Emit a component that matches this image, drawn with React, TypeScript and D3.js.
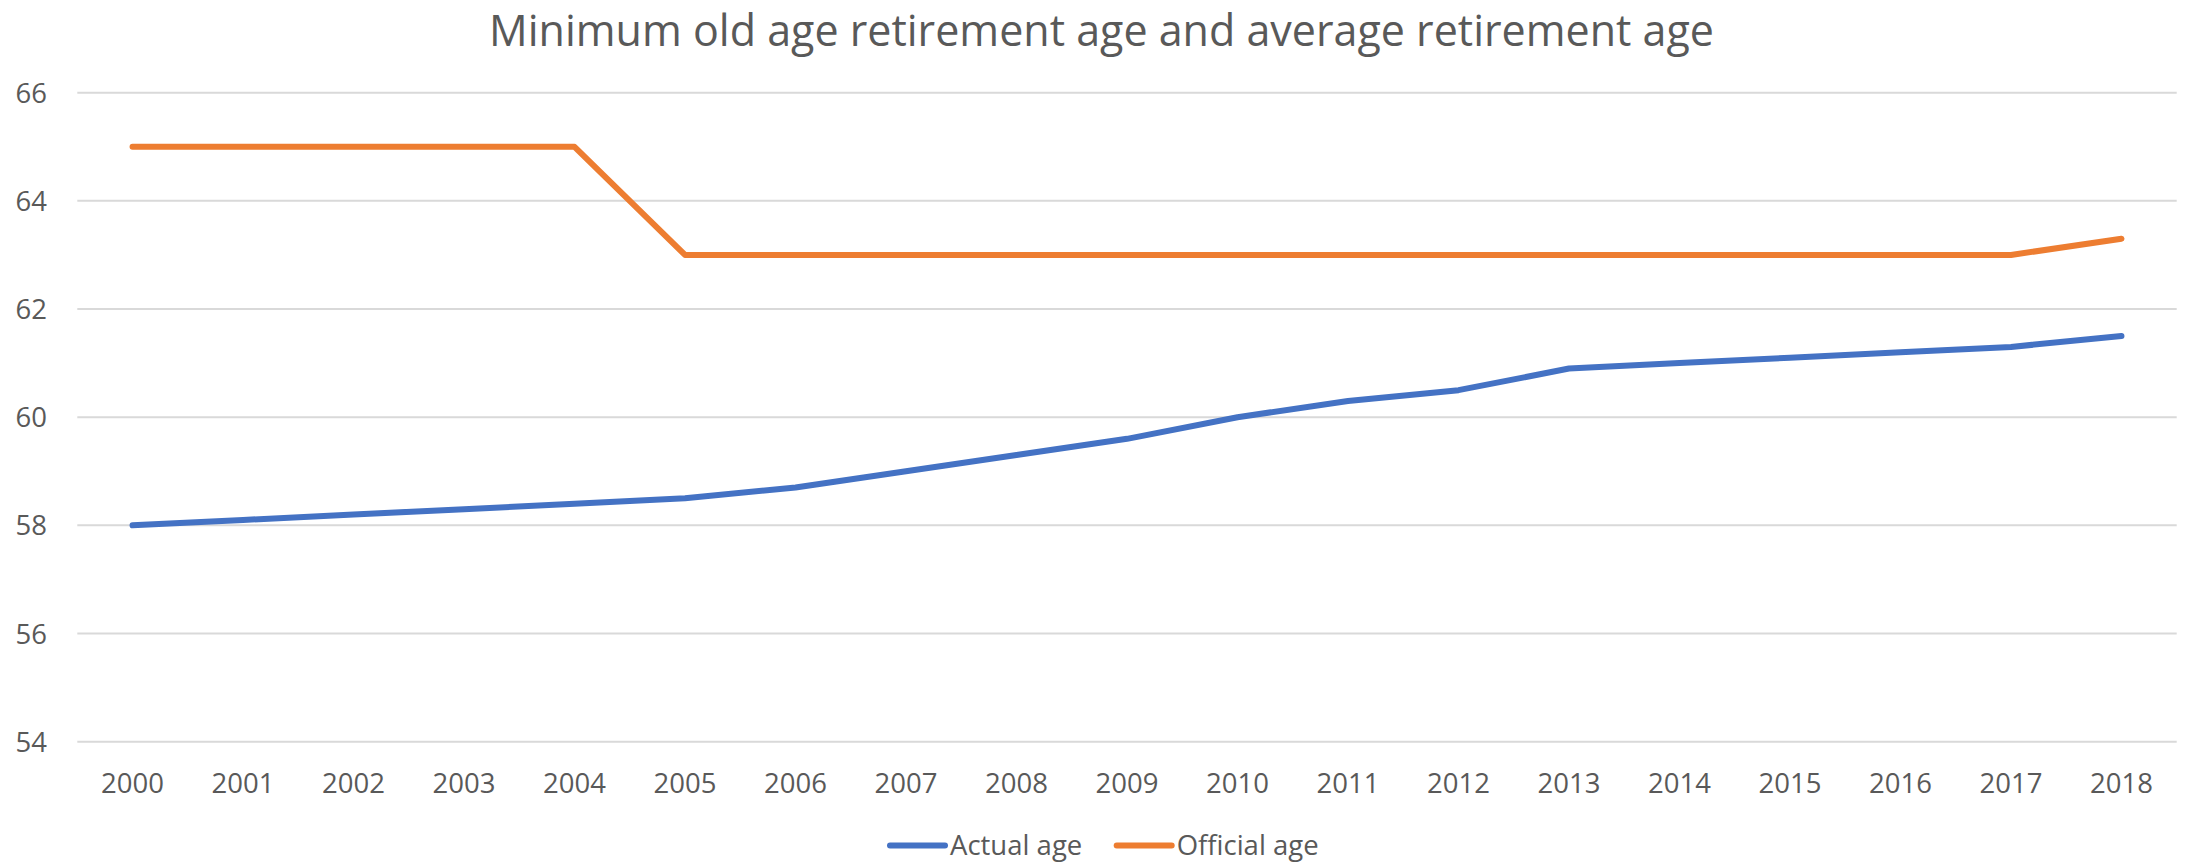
import React from "react";
import * as d3 from "d3";

const years = ["2000","2001","2002","2003","2004","2005","2006","2007","2008","2009","2010","2011","2012","2013","2014","2015","2016","2017","2018"];
const actualAge = [58.0,58.1,58.2,58.3,58.4,58.5,58.7,59.0,59.3,59.6,60.0,60.3,60.5,60.9,61.0,61.1,61.2,61.3,61.5];
const officialAge = [65,65,65,65,65,63,63,63,63,63,63,63,63,63,63,63,63,63,63.3];
const yTicks = [54,56,58,60,62,64,66];
const seriesNames = ["Actual age","Official age"];
const seriesColors = ["#4472C4","#ED7D31"];
const title = "Minimum old age retirement age and average retirement age";

const W = 2188, H = 862;
const FONT = "'Open Sans', 'Noto Sans', sans-serif";

export default function App() {
  const x = d3.scaleBand<string>().domain(years).range([77.3, 2176.7]).padding(0);
  const y = d3.scaleLinear().domain([54, 66]).range([741.7, 92.7]);
  const cx = (yr: string) => (x(yr) as number) + x.bandwidth() / 2;
  const line = d3.line<number>().x((_, i) => cx(years[i])).y((d) => y(d));
  const series = [actualAge, officialAge];
  const legendItems = [
    { lx: 890, tx: 950 },
    { lx: 1116.7, tx: 1176.7 },
  ];
  return (
    <div style={{ position: "absolute", left: 0, top: 0 }}>
      <svg width={W} height={H} style={{ display: "block", background: "#fff" }} fontFamily={FONT}>
        <rect x={0} y={0} width={W} height={H} fill="#ffffff" />
        <text x={1101.5} y={46} textAnchor="middle" fontSize={43} fill="#595959">{title}</text>
        {yTicks.map((t) => (
          <g key={t}>
            <line x1={77.3} x2={2176.7} y1={y(t)} y2={y(t)} stroke="#d9d9d9" strokeWidth={2} />
            <text x={47} y={y(t) + 10} textAnchor="end" fontSize={27.5} fill="#595959">{t}</text>
          </g>
        ))}
        {years.map((yr) => (
          <text key={yr} x={cx(yr)} y={793} textAnchor="middle" fontSize={27.5} fill="#595959">{yr}</text>
        ))}
        {series.map((s, i) => (
          <path key={i} d={line(s) as string} fill="none" stroke={seriesColors[i]} strokeWidth={6} strokeLinejoin="round" strokeLinecap="round" />
        ))}
        {seriesNames.map((n, i) => (
          <g key={n}>
            <line x1={legendItems[i].lx} x2={legendItems[i].lx + 55} y1={845.5} y2={845.5} stroke={seriesColors[i]} strokeWidth={6} strokeLinecap="round" />
            <text x={legendItems[i].tx} y={855} fontSize={27.5} fill="#595959">{n}</text>
          </g>
        ))}
      </svg>
    </div>
  );
}
